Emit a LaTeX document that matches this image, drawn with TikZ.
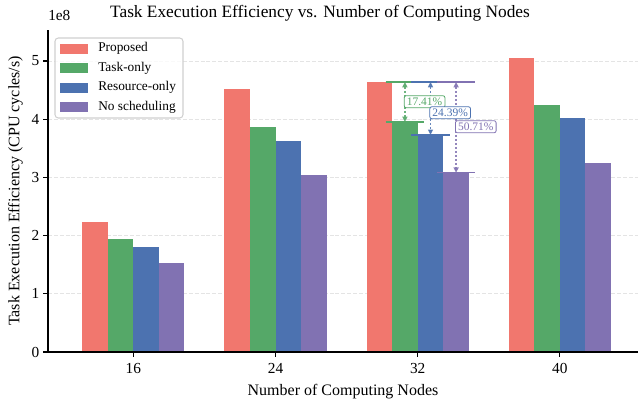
\documentclass[tikz,border=0pt]{standalone}
\usepackage{fontspec}
\setmainfont{Liberation Serif}
\usetikzlibrary{arrows.meta}
\definecolor{effProposed}{HTML}{F1776E}
\definecolor{effTask}{HTML}{55A868}
\definecolor{effResource}{HTML}{4C72B0}
\definecolor{effNone}{HTML}{8172B2}
\definecolor{effGridGray}{HTML}{E4E4E4}
\definecolor{effLegEdge}{HTML}{D0D0D0}
\begin{document}
\begin{tikzpicture}[
    x=0.75pt, y=0.75pt,
    effGrid/.style={effGridGray, line width=0.7pt, dash pattern=on 3pt off 1.4pt},
    effSpine/.style={black, line width=0.8pt},
    effTickLab/.style={inner sep=0pt, font=\fontsize{11.5}{13}\selectfont},
    effLimit/.style={line width=1pt},
    effDiff/.style={line width=0.9pt, dash pattern=on 1.6pt off 1.4pt,
                    {Triangle[length=4pt,width=3.8pt]}-{Triangle[length=4pt,width=3.8pt]}},
    effTag/.style={draw, fill=white, rounded corners=1.5pt, line width=0.6pt,
                   inner xsep=2pt, inner ysep=1.6pt, anchor=west, xshift=-0.8pt,
                   font=\fontsize{8.6}{9}\selectfont},
    effKey/.style={minimum width=21pt, minimum height=7.5pt, inner sep=0pt},
    effKeyLab/.style={anchor=west, inner sep=0pt, font=\fontsize{10}{12}\selectfont}]
  \useasboundingbox (0,0) rectangle (640,402);
  % title and axis labels
  \node[font=\fontsize{13}{15}\selectfont, anchor=base] (title) at (320,384)
    {Task Execution Efficiency vs. Number of Computing Nodes};
  \node[font=\fontsize{12}{14}\selectfont, anchor=base] (xlab) at (343,6.5)
    {Number of Computing Nodes};
  \node[font=\fontsize{12}{14}\selectfont, rotate=90] (ylab) at (15.5,211)
    {Task Execution Efficiency (CPU cycles/s)};
  \node[effTickLab, anchor=base west] (offset) at (48,381) {1e8};
  \begin{scope}[shift={(133.3,50)}, x=106.65pt, y=43.65pt]
    % grid
    \foreach \v in {1,...,5}
      \draw[effGrid] (-0.6,\v) -- (3.55,\v);
    % bars
    \foreach \g/\p/\t/\r/\n in {0/2.23/1.94/1.80/1.53, 1/4.52/3.87/3.63/3.04,
                                2/4.64/3.952/3.730/3.079, 3/5.05/4.24/4.015/3.25} {
      \fill[effProposed] (\g-0.36,0) rectangle (\g-0.18,\p);
      \fill[effTask]     (\g-0.18,0) rectangle (\g,\t);
      \fill[effResource] (\g,0)      rectangle (\g+0.18,\r);
      \fill[effNone]     (\g+0.18,0) rectangle (\g+0.36,\n);
    }
    % spines and ticks
    \draw[effSpine] (-0.6,5.53) -- (-0.6,0) -- (3.55,0);
    \foreach \v in {0,...,5}
      \draw[effSpine] (-0.6,\v) -- ++(-3.5pt,0)
        node[effTickLab, anchor=east, xshift=-2.6pt] (ytick\v) {\v};
    \foreach \g/\lab in {0/16,1/24,2/32,3/40} {
      \draw[effSpine] (\g,0) -- ++(0,-3.5pt);
      \node[effTickLab, anchor=base, yshift=-16.5pt] (xtick\lab) at (\g,0) {\lab};
    }
    % gaps to the proposed bar at 32 nodes
    \foreach \k/\cx/\tv/\col in {a/1.91/3.952/effTask, b/2.09/3.730/effResource,
                                 c/2.27/3.079/effNone} {
      \coordinate (gapTop\k) at (\cx,4.64);
      \coordinate (gapBot\k) at (\cx,\tv);
      \draw[effLimit, \col] ([xshift=-14.4pt]gapTop\k) -- ([xshift=14.4pt]gapTop\k);
      \draw[effLimit, \col] ([xshift=-14.4pt]gapBot\k) -- ([xshift=14.4pt]gapBot\k);
      \draw[effDiff, \col, opacity=0.85] (gapTop\k) -- (gapBot\k);
    }
    \foreach \k/\cx/\col/\pct/\ty in {a/1.91/effTask/17.41/4.30, b/2.09/effResource/24.39/4.11,
                                      c/2.27/effNone/50.71/3.87}
      \node[effTag, draw=\col, text=\col] (gapTag\k) at (\cx,\ty) {\pct\%};
  \end{scope}
  % legend
  \draw[effLegEdge, fill=white, fill opacity=0.8, line width=0.8pt, rounded corners=2.5pt]
    (55,284) rectangle (183,364);
  \foreach \y/\col/\lab [count=\i] in {353.3/effProposed/Proposed, 333.7/effTask/Task-only,
                                       314.3/effResource/Resource-only, 294.7/effNone/No scheduling} {
    \node[effKey, fill=\col] (key\i) at (74,\y) {};
    \node[effKeyLab] (keyLab\i) at (98,\y) {\lab};
  }
\end{tikzpicture}
\end{document}
